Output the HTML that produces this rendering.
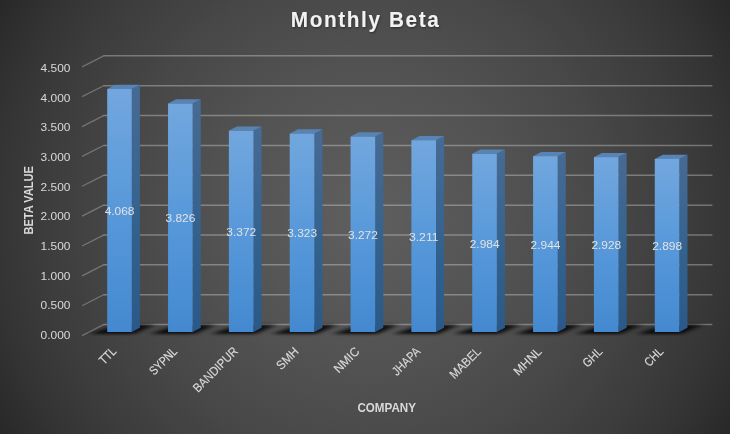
<!DOCTYPE html>
<html lang="en"><head><meta charset="utf-8"><title>Monthly Beta</title>
<style>html,body{margin:0;padding:0;background:#262626;}body{width:730px;height:434px;overflow:hidden;}svg{display:block;font-family:"Liberation Sans",Arial,sans-serif;}</style></head><body>
<svg width="730" height="434" viewBox="0 0 730 434">
<defs>
<radialGradient id="bg" gradientUnits="userSpaceOnUse" cx="0" cy="0" r="1" gradientTransform="translate(365 217) scale(424.6 424.6)"><stop offset="0.0000" stop-color="rgb(94.00,94.00,94.00)"/><stop offset="0.0417" stop-color="rgb(92.95,92.95,92.95)"/><stop offset="0.0833" stop-color="rgb(91.71,91.71,91.71)"/><stop offset="0.1250" stop-color="rgb(90.36,90.36,90.36)"/><stop offset="0.1667" stop-color="rgb(88.93,88.93,88.93)"/><stop offset="0.2083" stop-color="rgb(87.43,87.43,87.43)"/><stop offset="0.2500" stop-color="rgb(85.85,85.85,85.85)"/><stop offset="0.2917" stop-color="rgb(84.21,84.21,84.21)"/><stop offset="0.3333" stop-color="rgb(82.50,82.50,82.50)"/><stop offset="0.3750" stop-color="rgb(80.72,80.72,80.72)"/><stop offset="0.4167" stop-color="rgb(78.86,78.86,78.86)"/><stop offset="0.4583" stop-color="rgb(76.93,76.93,76.93)"/><stop offset="0.5000" stop-color="rgb(74.91,74.91,74.91)"/><stop offset="0.5417" stop-color="rgb(72.81,72.81,72.81)"/><stop offset="0.5833" stop-color="rgb(70.62,70.62,70.62)"/><stop offset="0.6250" stop-color="rgb(68.32,68.32,68.32)"/><stop offset="0.6667" stop-color="rgb(65.91,65.91,65.91)"/><stop offset="0.7083" stop-color="rgb(63.37,63.37,63.37)"/><stop offset="0.7500" stop-color="rgb(60.69,60.69,60.69)"/><stop offset="0.7917" stop-color="rgb(57.85,57.85,57.85)"/><stop offset="0.8333" stop-color="rgb(54.83,54.83,54.83)"/><stop offset="0.8750" stop-color="rgb(51.58,51.58,51.58)"/><stop offset="0.9167" stop-color="rgb(48.07,48.07,48.07)"/><stop offset="0.9583" stop-color="rgb(44.24,44.24,44.24)"/><stop offset="1.0000" stop-color="rgb(40.00,40.00,40.00)"/></radialGradient>
<linearGradient id="ff" x1="0" y1="0" x2="0" y2="1"><stop offset="0" stop-color="#72a7de"/><stop offset="0.55" stop-color="#5597d9"/><stop offset="1" stop-color="#4489d0"/></linearGradient>
<linearGradient id="sf" x1="0" y1="0" x2="0" y2="1"><stop offset="0" stop-color="#466b95"/><stop offset="0.55" stop-color="#34628f"/><stop offset="1" stop-color="#2a5888"/></linearGradient>
<filter id="sh" x="-50%" y="-200%" width="200%" height="500%"><feGaussianBlur stdDeviation="3.6 1.4"/></filter>
<filter id="ts" x="-10%" y="-30%" width="120%" height="180%"><feDropShadow dx="0.7" dy="1" stdDeviation="1" flood-color="#000" flood-opacity="0.45"/></filter>
</defs>
<rect width="730" height="434" fill="url(#bg)"/>
<g fill="none" stroke="#ffffff" stroke-opacity="0.3" stroke-width="1.5" stroke-linejoin="round">
<path d="M103.70 324.60H712.40"/>
<path d="M82.10 335.60L104.10 324.40" stroke-opacity="0.27" stroke-width="1.3"/>
<path d="M103.70 294.74H712.40"/>
<path d="M82.10 305.74L104.10 294.54" stroke-opacity="0.27" stroke-width="1.3"/>
<path d="M103.70 264.87H712.40"/>
<path d="M82.10 275.87L104.10 264.67" stroke-opacity="0.27" stroke-width="1.3"/>
<path d="M103.70 235.01H712.40"/>
<path d="M82.10 246.01L104.10 234.81" stroke-opacity="0.27" stroke-width="1.3"/>
<path d="M103.70 205.14H712.40"/>
<path d="M82.10 216.14L104.10 204.94" stroke-opacity="0.27" stroke-width="1.3"/>
<path d="M103.70 175.28H712.40"/>
<path d="M82.10 186.28L104.10 175.08" stroke-opacity="0.27" stroke-width="1.3"/>
<path d="M103.70 145.41H712.40"/>
<path d="M82.10 156.41L104.10 145.21" stroke-opacity="0.27" stroke-width="1.3"/>
<path d="M103.70 115.55H712.40"/>
<path d="M82.10 126.55L104.10 115.35" stroke-opacity="0.27" stroke-width="1.3"/>
<path d="M103.70 85.68H712.40"/>
<path d="M82.10 96.68L104.10 85.48" stroke-opacity="0.27" stroke-width="1.3"/>
<path d="M103.70 55.82H712.40"/>
<path d="M82.10 66.82L104.10 55.62" stroke-opacity="0.27" stroke-width="1.3"/>
</g>
<g fill="#000" filter="url(#sh)" opacity="0.85">
<path d="M89.20 334.00H133.80L154.90 324.70L137.90 324.70L113.30 325.90Z"/>
<path d="M150.04 334.00H194.64L215.74 324.70L198.74 324.70L174.14 325.90Z"/>
<path d="M210.88 334.00H255.48L276.58 324.70L259.58 324.70L234.98 325.90Z"/>
<path d="M271.72 334.00H316.32L337.42 324.70L320.42 324.70L295.82 325.90Z"/>
<path d="M332.56 334.00H377.16L398.26 324.70L381.26 324.70L356.66 325.90Z"/>
<path d="M393.40 334.00H438.00L459.10 324.70L442.10 324.70L417.50 325.90Z"/>
<path d="M454.24 334.00H498.84L519.94 324.70L502.94 324.70L478.34 325.90Z"/>
<path d="M515.08 334.00H559.68L580.78 324.70L563.78 324.70L539.18 325.90Z"/>
<path d="M575.92 334.00H620.52L641.62 324.70L624.62 324.70L600.02 325.90Z"/>
<path d="M636.76 334.00H681.36L702.46 324.70L685.46 324.70L660.86 325.90Z"/>
</g>
<path d="M131.80 89.02L139.90 84.82V327.80L131.80 332.00Z" fill="url(#sf)"/>
<path d="M107.20 89.02L115.30 84.82H139.90L131.80 89.02Z" fill="#5783b5"/>
<rect x="107.20" y="89.02" width="24.60" height="242.98" fill="url(#ff)"/>
<path d="M192.64 103.47L200.74 99.27V327.80L192.64 332.00Z" fill="url(#sf)"/>
<path d="M168.04 103.47L176.14 99.27H200.74L192.64 103.47Z" fill="#5783b5"/>
<rect x="168.04" y="103.47" width="24.60" height="228.53" fill="url(#ff)"/>
<path d="M253.48 130.59L261.58 126.39V327.80L253.48 332.00Z" fill="url(#sf)"/>
<path d="M228.88 130.59L236.98 126.39H261.58L253.48 130.59Z" fill="#5783b5"/>
<rect x="228.88" y="130.59" width="24.60" height="201.41" fill="url(#ff)"/>
<path d="M314.32 133.52L322.42 129.32V327.80L314.32 332.00Z" fill="url(#sf)"/>
<path d="M289.72 133.52L297.82 129.32H322.42L314.32 133.52Z" fill="#5783b5"/>
<rect x="289.72" y="133.52" width="24.60" height="198.48" fill="url(#ff)"/>
<path d="M375.16 136.56L383.26 132.36V327.80L375.16 332.00Z" fill="url(#sf)"/>
<path d="M350.56 136.56L358.66 132.36H383.26L375.16 136.56Z" fill="#5783b5"/>
<rect x="350.56" y="136.56" width="24.60" height="195.44" fill="url(#ff)"/>
<path d="M436.00 140.21L444.10 136.01V327.80L436.00 332.00Z" fill="url(#sf)"/>
<path d="M411.40 140.21L419.50 136.01H444.10L436.00 140.21Z" fill="#5783b5"/>
<rect x="411.40" y="140.21" width="24.60" height="191.79" fill="url(#ff)"/>
<path d="M496.84 153.77L504.94 149.57V327.80L496.84 332.00Z" fill="url(#sf)"/>
<path d="M472.24 153.77L480.34 149.57H504.94L496.84 153.77Z" fill="#5783b5"/>
<rect x="472.24" y="153.77" width="24.60" height="178.23" fill="url(#ff)"/>
<path d="M557.68 156.15L565.78 151.95V327.80L557.68 332.00Z" fill="url(#sf)"/>
<path d="M533.08 156.15L541.18 151.95H565.78L557.68 156.15Z" fill="#5783b5"/>
<rect x="533.08" y="156.15" width="24.60" height="175.85" fill="url(#ff)"/>
<path d="M618.52 157.11L626.62 152.91V327.80L618.52 332.00Z" fill="url(#sf)"/>
<path d="M593.92 157.11L602.02 152.91H626.62L618.52 157.11Z" fill="#5783b5"/>
<rect x="593.92" y="157.11" width="24.60" height="174.89" fill="url(#ff)"/>
<path d="M679.36 158.90L687.46 154.70V327.80L679.36 332.00Z" fill="url(#sf)"/>
<path d="M654.76 158.90L662.86 154.70H687.46L679.36 158.90Z" fill="#5783b5"/>
<rect x="654.76" y="158.90" width="24.60" height="173.10" fill="url(#ff)"/>
<g font-size="11.3" fill="#e2e2e2" text-anchor="middle">
<text x="119.60" y="215.21" textLength="29.8" lengthAdjust="spacingAndGlyphs">4.068</text>
<text x="180.44" y="222.44" textLength="29.8" lengthAdjust="spacingAndGlyphs">3.826</text>
<text x="241.28" y="236.00" textLength="29.8" lengthAdjust="spacingAndGlyphs">3.372</text>
<text x="302.12" y="237.46" textLength="29.8" lengthAdjust="spacingAndGlyphs">3.323</text>
<text x="362.96" y="238.98" textLength="29.8" lengthAdjust="spacingAndGlyphs">3.272</text>
<text x="423.80" y="240.80" textLength="29.8" lengthAdjust="spacingAndGlyphs">3.211</text>
<text x="484.64" y="247.58" textLength="29.8" lengthAdjust="spacingAndGlyphs">2.984</text>
<text x="545.48" y="248.78" textLength="29.8" lengthAdjust="spacingAndGlyphs">2.944</text>
<text x="606.32" y="249.26" textLength="29.8" lengthAdjust="spacingAndGlyphs">2.928</text>
<text x="667.16" y="250.15" textLength="29.8" lengthAdjust="spacingAndGlyphs">2.898</text>
</g>
<g font-size="11.3" fill="#d9d9d9" text-anchor="end">
<text x="70.4" y="339.00" textLength="29.8" lengthAdjust="spacingAndGlyphs">0.000</text>
<text x="70.4" y="309.33" textLength="29.8" lengthAdjust="spacingAndGlyphs">0.500</text>
<text x="70.4" y="279.66" textLength="29.8" lengthAdjust="spacingAndGlyphs">1.000</text>
<text x="70.4" y="249.99" textLength="29.8" lengthAdjust="spacingAndGlyphs">1.500</text>
<text x="70.4" y="220.32" textLength="29.8" lengthAdjust="spacingAndGlyphs">2.000</text>
<text x="70.4" y="190.65" textLength="29.8" lengthAdjust="spacingAndGlyphs">2.500</text>
<text x="70.4" y="160.98" textLength="29.8" lengthAdjust="spacingAndGlyphs">3.000</text>
<text x="70.4" y="131.31" textLength="29.8" lengthAdjust="spacingAndGlyphs">3.500</text>
<text x="70.4" y="101.64" textLength="29.8" lengthAdjust="spacingAndGlyphs">4.000</text>
<text x="70.4" y="71.97" textLength="29.8" lengthAdjust="spacingAndGlyphs">4.500</text>
</g>
<g font-size="12.4" fill="#d9d9d9" stroke="#d9d9d9" stroke-width="0.15" text-anchor="end">
<text transform="translate(117.20 352.10) rotate(-45)" textLength="18.78" lengthAdjust="spacingAndGlyphs">TTL</text>
<text transform="translate(177.96 352.13) rotate(-45)" textLength="33.59" lengthAdjust="spacingAndGlyphs">SYPNL</text>
<text transform="translate(238.72 352.16) rotate(-45)" textLength="57.69" lengthAdjust="spacingAndGlyphs">BANDIPUR</text>
<text transform="translate(299.48 352.19) rotate(-45)" textLength="25.83" lengthAdjust="spacingAndGlyphs">SMH</text>
<text transform="translate(360.24 352.22) rotate(-45)" textLength="30.47" lengthAdjust="spacingAndGlyphs">NMIC</text>
<text transform="translate(421.00 352.25) rotate(-45)" textLength="33.89" lengthAdjust="spacingAndGlyphs">JHAPA</text>
<text transform="translate(481.76 352.28) rotate(-45)" textLength="38.48" lengthAdjust="spacingAndGlyphs">MABEL</text>
<text transform="translate(542.52 352.31) rotate(-45)" textLength="33.92" lengthAdjust="spacingAndGlyphs">MHNL</text>
<text transform="translate(603.28 352.34) rotate(-45)" textLength="22.32" lengthAdjust="spacingAndGlyphs">GHL</text>
<text transform="translate(664.04 352.37) rotate(-45)" textLength="21.02" lengthAdjust="spacingAndGlyphs">CHL</text>
</g>
<text x="386.7" y="412.3" font-size="11.9" font-weight="bold" fill="#d9d9d9" text-anchor="middle" textLength="58.6" lengthAdjust="spacingAndGlyphs">COMPANY</text>
<text transform="translate(32.8 200.3) rotate(-90)" font-size="11.9" font-weight="bold" fill="#d9d9d9" text-anchor="middle" textLength="68.4" lengthAdjust="spacingAndGlyphs">BETA VALUE</text>
<g transform="translate(364.8 26.8) scale(0.94 1)" filter="url(#ts)"><text x="0" y="0" font-size="22.1" font-weight="bold" fill="#f2f2f2" text-anchor="middle" textLength="157.6" lengthAdjust="spacing">Monthly Beta</text></g>
</svg></body></html>
